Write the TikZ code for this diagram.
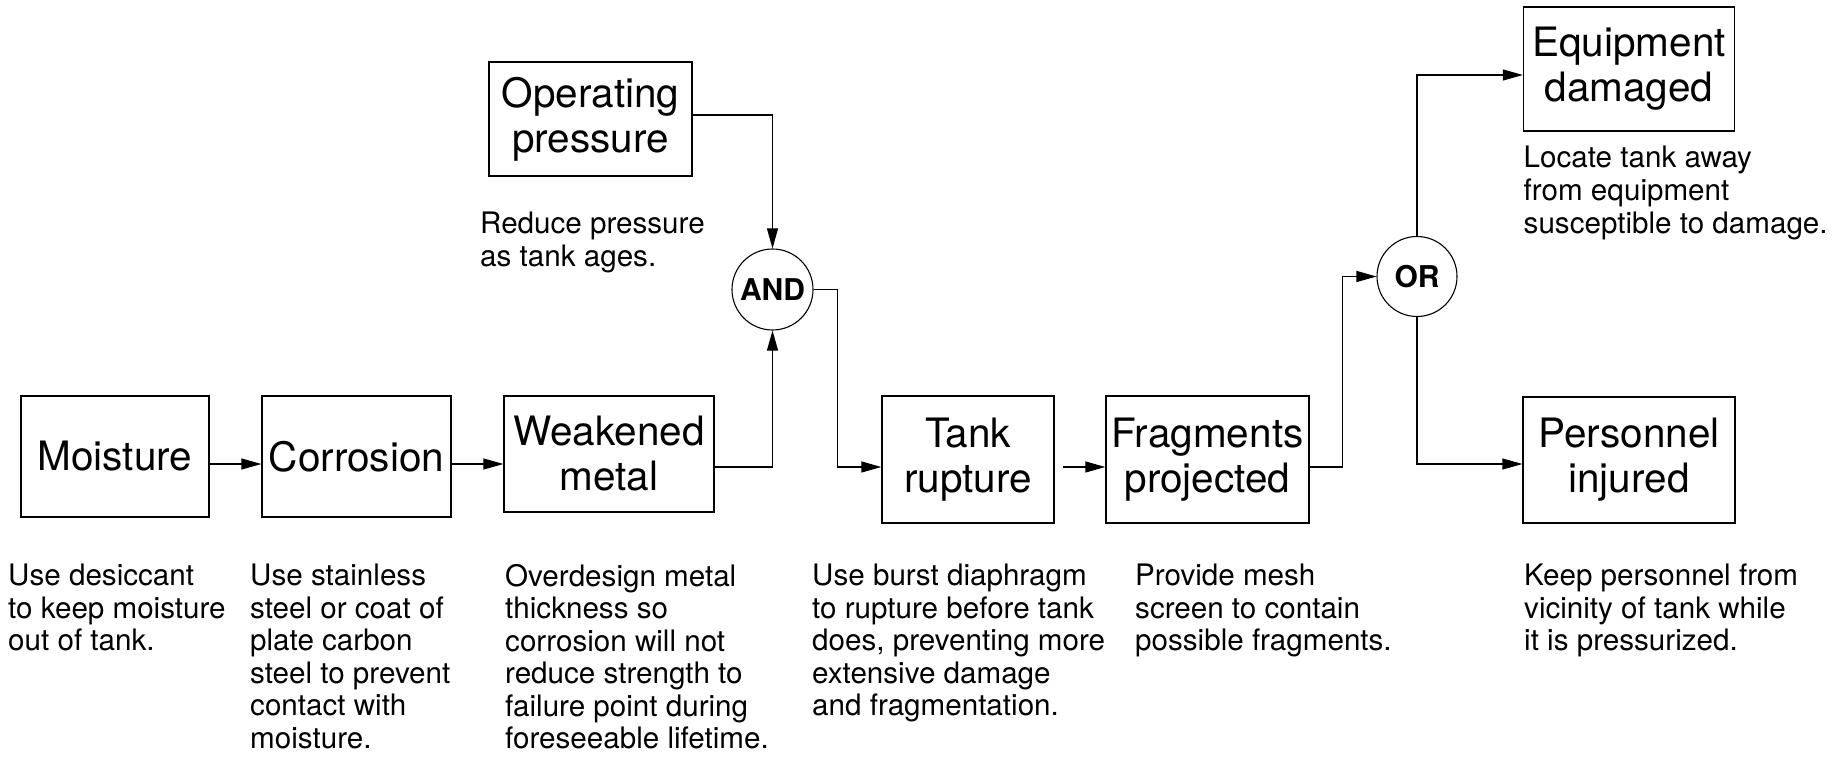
\documentclass[tikz,border=0pt]{standalone}
\usepackage{fontspec}
\setmainfont{TeX Gyre Heros}
\usetikzlibrary{arrows.meta}
\begin{document}
\begin{tikzpicture}[x=1pt,y=-1pt,
  box/.style={draw, line width=1.3pt, inner sep=0pt, align=center,
    font=\fontsize{40.5}{45}\selectfont},
  gate/.style={draw, circle, line width=1.1pt, inner sep=0pt, minimum size=#1,
    font=\fontsize{30}{30}\selectfont\bfseries},
  note/.style={anchor=north west, inner sep=0pt, align=left,
    font=\fontsize{29.6}{32.5}\selectfont},
  arr/.style={line width=1.1pt, -{Triangle[length=20pt,width=11pt]}},
  ln/.style={line width=1.1pt}]
\useasboundingbox (0,0) rectangle (1839,762);
% boxes
\node[box, minimum width=188pt, minimum height=121pt] (moist) at (115,456.5) {Moisture};
\node[box, minimum width=189pt, minimum height=121pt] (corr) at (356.5,456.5) {Corrosion};
\node[box, minimum width=210pt, minimum height=116pt] (weak) at (609,454) {Weakened\\metal};
\node[box, minimum width=203pt, minimum height=114pt] (oper) at (590.5,119) {Operating\\pressure};
\node[box, minimum width=172pt, minimum height=127pt] (tank) at (968,459.5) {Tank\\rupture};
\node[box, minimum width=203pt, minimum height=127pt] (frag) at (1207.5,459.5) {Fragments\\projected};
\node[box, minimum width=211pt, minimum height=124pt] (equip) at (1629,69) {Equipment\\damaged};
\node[box, minimum width=212pt, minimum height=126pt] (pers) at (1629,460) {Personnel\\injured};
% gates
\node[gate=81pt] (and) at (772.5,289.5) {AND};
\node[gate=80pt] (or) at (1417,276.5) {OR};
% connectors
\draw[arr] ([yshift=-7.5pt]moist.east) -- ([yshift=-7.5pt]corr.west);
\draw[arr] ([yshift=-7.5pt]corr.east) -- ([yshift=-10pt]weak.west);
\draw[arr] ([yshift=-13pt]weak.east) -| (and.south);
\draw[arr] ([yshift=4pt]oper.east) -| (and.north);
\draw[arr] (and.east) -- ++(24,0) |- ([yshift=-7.5pt]tank.west);
\draw[arr] ([xshift=8pt,yshift=-7.5pt]tank.east) -- ([yshift=-7.5pt]frag.west);
\draw[arr] ([yshift=-7.5pt]frag.east) -- ++(33,0) |- (or.west);
\draw[arr] (or.north) |- ([yshift=-6pt]equip.west);
\draw[arr] (or.south) |- ([yshift=-4pt]pers.west);
% notes
\node[note] (nmoist) at (8,564) {Use desiccant\\to keep moisture\\out of tank.};
\node[note] (ncorr) at (250,564) {Use stainless\\steel or coat of\\plate carbon\\steel to prevent\\contact with\\moisture.};
\node[note] (nweak) at (505,564) {Overdesign metal\\thickness so\\corrosion will not\\reduce strength to\\failure point during\\foreseeable lifetime.};
\node[note] (ntank) at (812,564) {Use burst diaphragm\\to rupture before tank\\does, preventing more\\extensive damage\\and fragmentation.};
\node[note] (nfrag) at (1135,564) {Provide mesh\\screen to contain\\possible fragments.};
\node[note] (npers) at (1524,564) {Keep personnel from\\vicinity of tank while\\it is pressurized.};
\node[note] (noper) at (480,212) {Reduce pressure\\as tank ages.};
\node[note, font=\fontsize{29.6}{33}\selectfont] (nequip) at (1523.5,146) {Locate tank away\\from equipment\\susceptible to damage.};
\end{tikzpicture}
\end{document}
